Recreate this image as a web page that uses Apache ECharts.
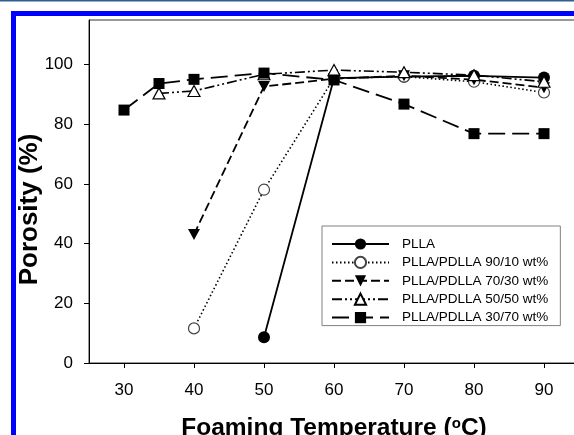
<!DOCTYPE html>
<html>
<head>
<meta charset="utf-8">
<script src="https://cdn.jsdelivr.net/npm/echarts@6/dist/echarts.min.js"></script>
<style>
html,body{margin:0;padding:0;background:#fff;}
#chart{width:574px;height:435px;}
</style>
</head>
<body>
<div id="chart"></div>
<script>
const seriesNames = ['PLLA', 'PLLA/PDLLA 90/10 wt%', 'PLLA/PDLLA 70/30 wt%', 'PLLA/PDLLA 50/50 wt%', 'PLLA/PDLLA 30/70 wt%'];
const xPLLA = [50, 60, 70, 80, 90];
const yPLLA = [8.6, 95.5, 96.0, 96.3, 95.7];
const x9010 = [40, 50, 60, 70, 80, 90];
const y9010 = [11.6, 58.1, 95.5, 96.0, 94.3, 90.7];
const x7030 = [40, 50, 60, 70, 80, 90];
const y7030 = [43.1, 92.7, 95.3, 96.3, 95.0, 92.3];
const x5050 = [35, 40, 50, 60, 70, 80, 90];
const y5050 = [90.4, 91.2, 96.8, 98.2, 97.5, 96.5, 94.3];
const x3070 = [30, 35, 40, 50, 60, 70, 80, 90];
const y3070 = [84.8, 93.7, 95.1, 97.2, 94.9, 86.8, 76.9, 76.9];
const xTicks = [30, 40, 50, 60, 70, 80, 90];
const yTicks = [0, 20, 40, 60, 80, 100];

const pairs = (xs, ys) => xs.map((x, i) => [x, ys[i]]);
const FONT = '"Liberation Sans", Arial, sans-serif';

const chart = echarts.init(document.getElementById('chart'));
const base = {type: 'line', z: 3, animation: false, symbolSize: 11};
chart.setOption({
  backgroundColor: '#fff',
  animation: false,
  graphic: [
    {type: 'rect', shape: {x: 0, y: 0, width: 574, height: 1.5}, style: {fill: '#2d5f8f'}},
    {type: 'rect', shape: {x: 11, y: 11, width: 563, height: 5}, style: {fill: '#0000ff'}},
    {type: 'rect', shape: {x: 11, y: 11, width: 5, height: 424}, style: {fill: '#0000ff'}}
  ],
  grid: {left: 89, top: 20, right: -5, bottom: 72, show: true, borderColor: '#333', borderWidth: 1,
    containLabel: false, outerBoundsMode: 'none'},
  xAxis: {
    type: 'value', min: 25, max: 95,
    name: 'Foaming Temperature ({s|o}C)',
    nameLocation: 'middle', nameGap: 53, nameMoveOverlap: false,
    nameTextStyle: {fontFamily: FONT, fontSize: 24.5, fontWeight: 'bold', color: '#000',
      rich: {s: {fontFamily: FONT, fontSize: 15, fontWeight: 'bold', color: '#000', verticalAlign: 'top', padding: [0, 0, 9, 0]}}},
    axisLine: {show: true, lineStyle: {color: '#000', width: 1}},
    axisTick: {show: true, length: 5, lineStyle: {color: '#000'}, customValues: xTicks},
    axisLabel: {customValues: xTicks, fontFamily: FONT, fontSize: 17, color: '#000', margin: 19},
    splitLine: {show: false}
  },
  yAxis: {
    type: 'value', min: 0, max: 115,
    name: 'Porosity (%)',
    nameLocation: 'middle', nameGap: 46, nameRotate: 90, nameMoveOverlap: false,
    nameTextStyle: {fontFamily: FONT, fontSize: 26, fontWeight: 'bold', color: '#000', padding: [0, 36, 0, 0]},
    axisLine: {show: true, lineStyle: {color: '#000', width: 1}},
    axisTick: {show: true, length: 5, lineStyle: {color: '#000'}, customValues: yTicks},
    axisLabel: {customValues: yTicks, fontFamily: FONT, fontSize: 17, color: '#000', margin: 16},
    splitLine: {show: false}
  },
  legend: {
    orient: 'vertical', left: 322, top: 226,
    padding: [11, 12, 1, 9],
    backgroundColor: '#fff', borderColor: '#808080', borderWidth: 1, borderRadius: 0,
    itemWidth: 57, itemHeight: 14, itemGap: 4.4,
    textStyle: {fontFamily: FONT, fontSize: 13.5, color: '#000', padding: [0, 0, 0, 8]},
    data: seriesNames
  },
  series: [
    Object.assign({}, base, {name: seriesNames[0], data: pairs(xPLLA, yPLLA), symbol: 'circle', symbolSize: 12,
      itemStyle: {color: '#000'}, lineStyle: {color: '#000', width: 1.8, type: 'solid'}}),
    Object.assign({}, base, {name: seriesNames[1], data: pairs(x9010, y9010), symbol: 'circle', symbolSize: 11,
      itemStyle: {color: '#fff', borderColor: '#444', borderWidth: 1.2}, lineStyle: {color: '#000', width: 1.6, type: [1.5, 2.5]}}),
    Object.assign({}, base, {name: seriesNames[2], data: pairs(x7030, y7030), symbol: 'triangle', symbolRotate: 180, symbolSize: [12, 11],
      itemStyle: {color: '#000'}, lineStyle: {color: '#000', width: 1.8, type: [9, 4]}}),
    Object.assign({}, base, {name: seriesNames[3], data: pairs(x5050, y5050), symbol: 'triangle', symbolSize: [12, 11],
      itemStyle: {color: '#fff', borderColor: '#000', borderWidth: 1.2}, lineStyle: {color: '#000', width: 1.6, type: [10, 3, 2, 3, 2, 3]}}),
    Object.assign({}, base, {name: seriesNames[4], data: pairs(x3070, y3070), symbol: 'rect', symbolSize: 11,
      itemStyle: {color: '#000'}, lineStyle: {color: '#000', width: 1.8, type: [17, 7]}})
  ]
});
</script>
</body>
</html>
